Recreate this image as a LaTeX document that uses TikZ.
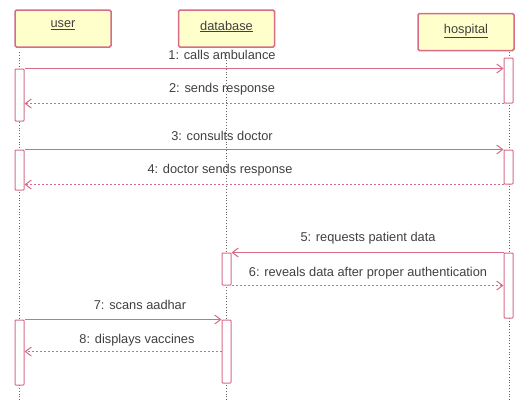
\documentclass[tikz,border=0pt]{standalone}
\usepackage{fontspec}
\setmainfont{Liberation Sans}
\usetikzlibrary{arrows.meta,positioning}
\definecolor{umlred}{RGB}{214,108,136}
\definecolor{umlfill}{RGB}{255,255,204}
\definecolor{umltext}{RGB}{64,64,64}
\begin{document}
\begin{tikzpicture}[x=1pt,y=-1pt,font=\fontsize{12.8}{14}\selectfont,text=umltext,
  obj/.style={draw=umlred,fill=umlfill,line width=1.5pt,rounded corners=1.5pt,minimum width=96pt,minimum height=37pt,inner sep=0pt},
  act/.style={draw=umlred,fill=white,line width=1pt,rounded corners=0.8pt,minimum width=9pt,inner sep=0pt},
  life/.style={draw=gray!80!black,dotted,line width=0.8pt},
  call/.style={draw=umlred,line width=1pt,-{Straight Barb[length=6pt,width=9pt]}},
  reply/.style={call,dash pattern=on 2pt off 2pt}]
\useasboundingbox (0,0) rectangle (516,400);
% objects
\node[obj] (user) at (63,28.5) {};
\node[obj] (db) at (226.5,28.5) {};
\node[obj] (hosp) at (466,32) {};
\node[below=8pt of user.north] (userlbl) {\underline{user}};
\node[below=8pt of db.north] (dblbl) {\underline{database}};
\node[below=8pt of hosp.north] (hosplbl) {\underline{hospital}};
% lifelines
\coordinate (ut) at (19.5,52); \coordinate (ub) at (19.5,400);
\coordinate (dt) at (226.5,52); \coordinate (dbt) at (226.5,400);
\coordinate (ht) at (509,52); \coordinate (hb) at (509,400);
\draw[life] (ut) -- (ub);
\draw[life] (dt) -- (dbt);
\draw[life] (ht) -- (hb);
% activations
\node[act,minimum height=52pt] (ua1) at (19.5,95) {};
\node[act,minimum height=45pt] (ha1) at (508.5,80.5) {};
\node[act,minimum height=40pt] (ua2) at (19.5,170) {};
\node[act,minimum height=34pt] (ha2) at (508.5,167) {};
\node[act,minimum height=32pt] (da1) at (226.5,269) {};
\node[act,minimum height=65pt] (ha3) at (508.5,285.5) {};
\node[act,minimum height=65pt] (ua3) at (19.5,352.5) {};
\node[act,minimum height=63pt] (da2) at (226.5,351.5) {};
% messages
\draw[call] (ua1.north east) -- (ua1.north east -| ha1.west);
\draw[reply] (ha1.south west) -- (ha1.south west -| ua1.east);
\draw[call] (ua2.north east) -- (ua2.north east -| ha2.west);
\draw[reply] (ha2.south west) -- (ha2.south west -| ua2.east);
\draw[call] (ha3.north west) -- (ha3.north west -| da1.east);
\draw[reply] (da1.south east) -- (da1.south east -| ha3.west);
\draw[call] (ua3.north east) -- (ua3.north east -| da2.west);
\draw[reply] (da2.west) -- (da2.west -| ua3.east);
\node (m1) at (222,55) {1: calls ambulance};
\node (m2) at (222,89) {2: sends response};
\node (m3) at (222,136) {3: consults doctor};
\node (m4) at (220,170) {4: doctor sends response};
\node (m5) at (368,238) {5: requests patient data};
\node (m6) at (368,273) {6: reveals data after proper authentication};
\node (m7) at (140,305) {7: scans aadhar};
\node (m8) at (137,340) {8: displays vaccines};
\end{tikzpicture}
\end{document}
